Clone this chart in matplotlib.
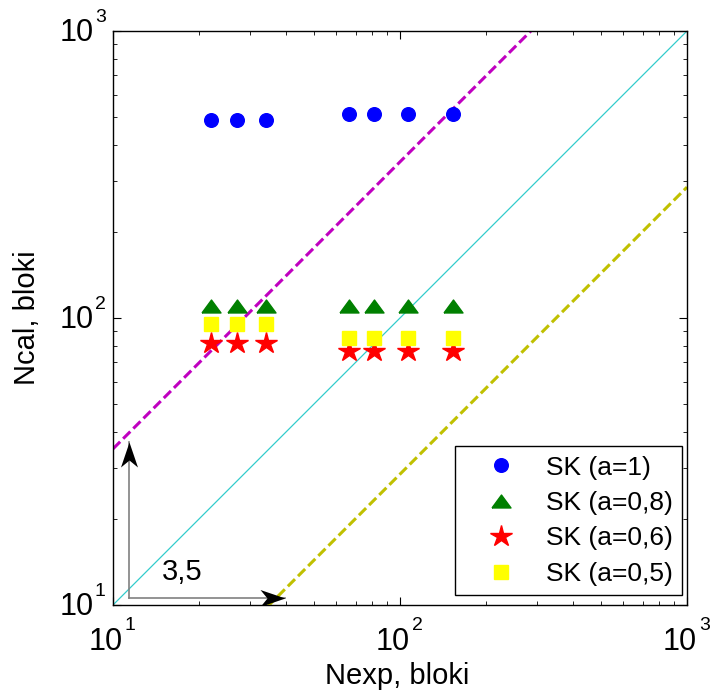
import numpy as np
import matplotlib.pyplot as plt
from matplotlib.path import Path
from matplotlib.transforms import blended_transform_factory, offset_copy

plt.rcParams['font.family'] = ['Liberation Sans', 'DejaVu Sans']

# measured values (Nexp) and calculated (Ncal) for each parameter a
nexp = [22, 27, 34, 66.5, 81, 107, 153]
ncal_a1 = [490, 490, 490, 513, 513, 513, 513]
ncal_a08 = [110, 110, 110, 110, 110, 110, 110]
ncal_a06 = [82, 82, 82, 76.5, 76.5, 76.5, 76.5]
ncal_a05 = [95, 95, 95, 85, 85, 85, 85]
factor = 3.5
decades = [1, 2, 3]

fig = plt.figure(figsize=(7.13, 6.97), dpi=100)
ax = fig.add_axes([113/713, 1-605/697, 574/713, 574/697])

xl = np.array([10, 1000])
ax.plot(xl, xl, color='#33cccc', lw=0.9)
ax.plot(xl, xl*factor, color='#c000c0', lw=2.2, dashes=(3.3, 1.4))
ax.plot(xl, xl/factor, color='#c0c000', lw=2.2, dashes=(3.3, 1.4))

# squat MATLAB-like triangle
tri = Path([(-1, -0.68), (1, -0.68), (0, 0.68), (-1, -0.68)])

ax.plot(nexp, ncal_a1, 'o', color='blue', ms=9.8, mec='blue', ls='none', label='SK (a=1)')
ax.plot(nexp, ncal_a08, marker=tri, color='green', ms=13.7, ls='none', label='SK (a=0,8)')
ax.plot(nexp, ncal_a06, '*', color='red', ms=16, ls='none', label='SK (a=0,6)')
ax.plot(nexp, ncal_a05, 's', color='yellow', ms=9.5, ls='none', label='SK (a=0,5)')

ax.set_xscale('log')
ax.set_yscale('log')
ax.set_xlim(10, 1000)
ax.set_ylim(10, 1000)

# arrows showing the factor 3.5 (gray shaft, notched black head)
x0, y0 = 11.4, 10.6
head_r = Path([(0, 0), (-25, 8.5), (-18, 0), (-25, -8.5), (0, 0)])
head_u = Path([(0, 0), (8.5, -25), (0, -18), (-8.5, -25), (0, 0)])
ax.plot([x0, x0], [y0, factor*y0], color='gray', lw=1.2)
ax.plot([x0, factor*x0], [y0, y0], color='gray', lw=1.2)
ax.plot(x0, factor*y0, marker=head_u, ms=36, color='black', mew=0)
ax.plot(factor*x0, y0, marker=head_r, ms=36, color='black', mew=0)
ax.text(14.8, 12.2, '3,5', fontsize=21)

for s in ax.spines.values():
    s.set_linewidth(1.0)
ax.tick_params(which='both', direction='in', top=True, right=True,
               labelbottom=False, labelleft=False)
ax.tick_params(which='major', length=6)
ax.tick_params(which='minor', length=3)

# MATLAB-style 10^k tick labels
tx = blended_transform_factory(ax.transData, ax.transAxes)
ty = blended_transform_factory(ax.transAxes, ax.transData)
for k in decades:
    v = 10.0**k
    ax.text(v, 0, '10', fontsize=22, ha='right', va='top',
            transform=offset_copy(tx, fig, x=10, y=-22, units='dots'))
    ax.text(v, 0, str(k), fontsize=14, ha='left', va='top',
            transform=offset_copy(tx, fig, x=12, y=-12, units='dots'))
    ax.text(0, v, '10', fontsize=22, ha='right', va='center',
            transform=offset_copy(ty, fig, x=-19, y=-2, units='dots'))
    ax.text(0, v, str(k), fontsize=14, ha='left', va='top',
            transform=offset_copy(ty, fig, x=-18, y=22, units='dots'))

ax.set_xlabel('Nexp, bloki', fontsize=21)
ax.set_ylabel('Ncal, bloki', fontsize=21)
ax.xaxis.set_label_coords(0.495, -0.1)
ax.yaxis.set_label_coords(-0.125, 0.5)

leg = ax.legend(loc='lower right', bbox_to_anchor=(0.991, 0.0174), borderaxespad=0,
                fontsize=19, fancybox=False, edgecolor='black', framealpha=1,
                handlelength=2.8, handletextpad=0.3, labelspacing=0.43,
                borderpad=0.35)
leg.get_frame().set_linewidth(1.0)

fig.savefig('out.png', dpi=100)
